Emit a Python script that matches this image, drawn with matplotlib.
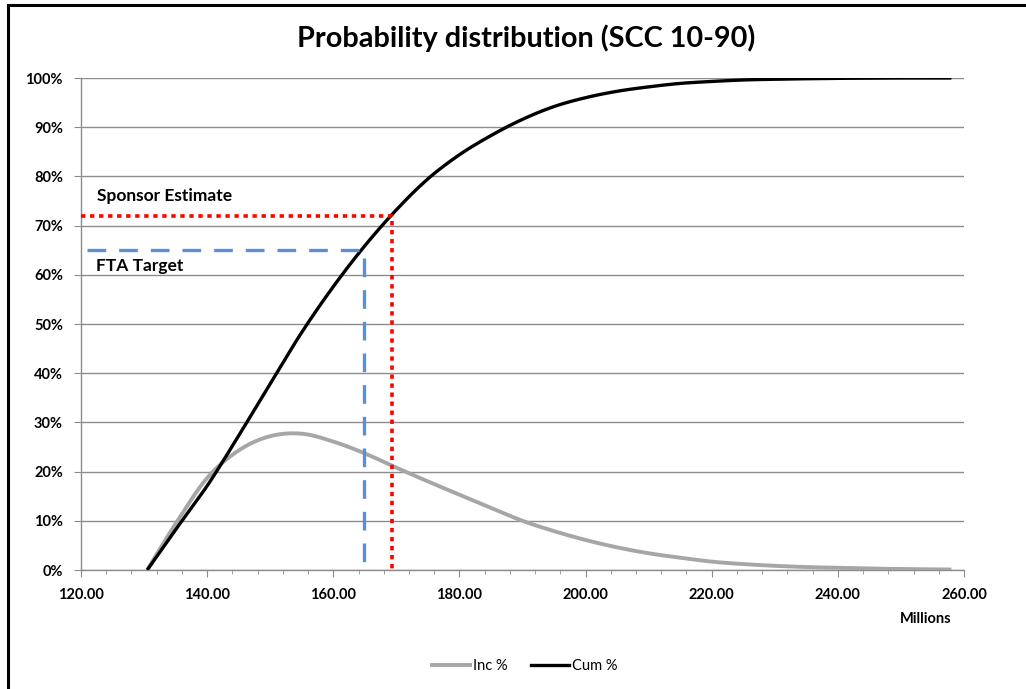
import numpy as np
import matplotlib
matplotlib.use("Agg")
import matplotlib.pyplot as plt
from matplotlib.lines import Line2D
from matplotlib.patches import Rectangle

plt.rcParams['font.family'] = ['Lato', 'DejaVu Sans']

# Cost values (millions) and probabilities (%)
cost = [130.5, 135, 140, 145, 150, 155, 160, 165, 170, 175, 180, 185, 190,
        195, 200, 205, 210, 215, 220, 225, 230, 235, 240, 245, 250, 258]
inc_pct = [0.0, 9.4, 18.7, 24.3, 27.2, 27.7, 26.1, 23.7, 20.8, 18.0, 15.3,
           12.6, 10.0, 7.9, 6.1, 4.6, 3.4, 2.5, 1.7, 1.2, 0.85, 0.6, 0.45,
           0.3, 0.2, 0.1]
cum_pct = [0.0, 8.2, 17.1, 27.3, 37.9, 48.3, 57.6, 65.9, 73.2, 79.5, 84.4,
           88.3, 91.6, 94.2, 96.0, 97.3, 98.2, 98.9, 99.3, 99.6, 99.75,
           99.85, 99.93, 99.97, 100.0, 100.0]

sponsor_cost, sponsor_pct = 169.3, 72.0
fta_cost, fta_pct = 164.8, 65.0

x_ticks = [120, 140, 160, 180, 200, 220, 240, 260]
y_ticks = [0, 10, 20, 30, 40, 50, 60, 70, 80, 90, 100]


def smooth(xs, ys, n=24):
    """Catmull-Rom smoothing through the given points."""
    p = np.column_stack([xs, ys]).astype(float)
    p = np.vstack([2 * p[0] - p[1], p, 2 * p[-1] - p[-2]])
    out = []
    t = np.linspace(0, 1, n, endpoint=False)[:, None]
    for i in range(1, len(p) - 2):
        p0, p1, p2, p3 = p[i - 1], p[i], p[i + 1], p[i + 2]
        seg = 0.5 * ((2 * p1) + (-p0 + p2) * t +
                     (2 * p0 - 5 * p1 + 4 * p2 - p3) * t ** 2 +
                     (-p0 + 3 * p1 - 3 * p2 + p3) * t ** 3)
        out.append(seg)
    out.append(p[-2][None, :])
    out = np.vstack(out)
    return out[:, 0], out[:, 1]


fig = plt.figure(figsize=(10.26, 6.89), dpi=100)
fig.patch.set_facecolor('white')
fig.patches.append(Rectangle((8 / 1026, -0.1), 1.2, (689 - 5) / 689 + 0.1,
                             transform=fig.transFigure, fill=False,
                             edgecolor='black', linewidth=2.2))

ax = fig.add_axes([81 / 1026, (689 - 570) / 689, (964 - 81) / 1026, (570 - 78) / 689])
ax.set_xlim(120, 260)
ax.set_ylim(0, 100)

grid_c = '#8c8c8c'
for s in ['top', 'right']:
    ax.spines[s].set_visible(False)
for s in ['left', 'bottom']:
    ax.spines[s].set_color(grid_c)
    ax.spines[s].set_linewidth(1.0)
ax.yaxis.grid(True, color=grid_c, linewidth=1.0)
ax.set_axisbelow(True)

ax.set_xticks(x_ticks)
ax.set_xticklabels([f"{v:.2f}" for v in x_ticks], fontweight='bold', fontsize=10.5)
ax.set_xticks(np.arange(120, 261, 4), minor=True)
ax.set_yticks(y_ticks)
ax.set_yticklabels([f"{v}%" for v in y_ticks], fontweight='bold', fontsize=10.5)
ax.tick_params(axis='x', which='major', length=5, color=grid_c, pad=8)
ax.tick_params(axis='x', which='minor', length=3, color=grid_c)
ax.tick_params(axis='y', length=5, color=grid_c, pad=8)

xi, yi = smooth(cost, inc_pct)
xc, yc = smooth(cost, cum_pct)
ax.plot(xi, yi, color='#a6a6a6', linewidth=2.8, solid_capstyle='butt', zorder=3)
ax.plot(xc, yc, color='black', linewidth=2.4, solid_capstyle='butt', zorder=4)

ax.plot([120, sponsor_cost, sponsor_cost], [sponsor_pct, sponsor_pct, 0],
        color='#ff0000', linewidth=2.6, linestyle=(0, (1.2, 1.3)),
        dash_capstyle='butt', zorder=5)
ax.plot([121.0, fta_cost, fta_cost], [fta_pct, fta_pct, 0],
        color='#5a8fd6', linewidth=2.4, linestyle=(0, (5.6, 3.9)),
        dash_capstyle='butt', zorder=5)

ax.text(122.5, 76.0, 'Sponsor Estimate', fontsize=12.5, fontweight='bold',
        va='center', ha='left')
ax.text(122.3, 61.8, 'FTA Target', fontsize=12.5, fontweight='bold',
        va='center', ha='left')

fig.text(926 / 1026, 1 - 619 / 689, 'Millions', fontsize=10.5, fontweight='bold',
         ha='center', va='center')
fig.text(526 / 1026, 1 - 38 / 689, 'Probability distribution (SCC 10-90)',
         fontsize=20.8, fontweight='bold', ha='center', va='center')

handles = [Line2D([], [], color='#a6a6a6', linewidth=2.8),
           Line2D([], [], color='black', linewidth=2.4)]
fig.legend(handles, ['Inc %', 'Cum %'], loc='center',
           bbox_to_anchor=(525 / 1026, 1 - 666 / 689), ncol=2, frameon=False,
           fontsize=10.5, handlelength=2.6, handletextpad=0.2, columnspacing=1.6)

fig.savefig('out.png', dpi=100, facecolor='white')
